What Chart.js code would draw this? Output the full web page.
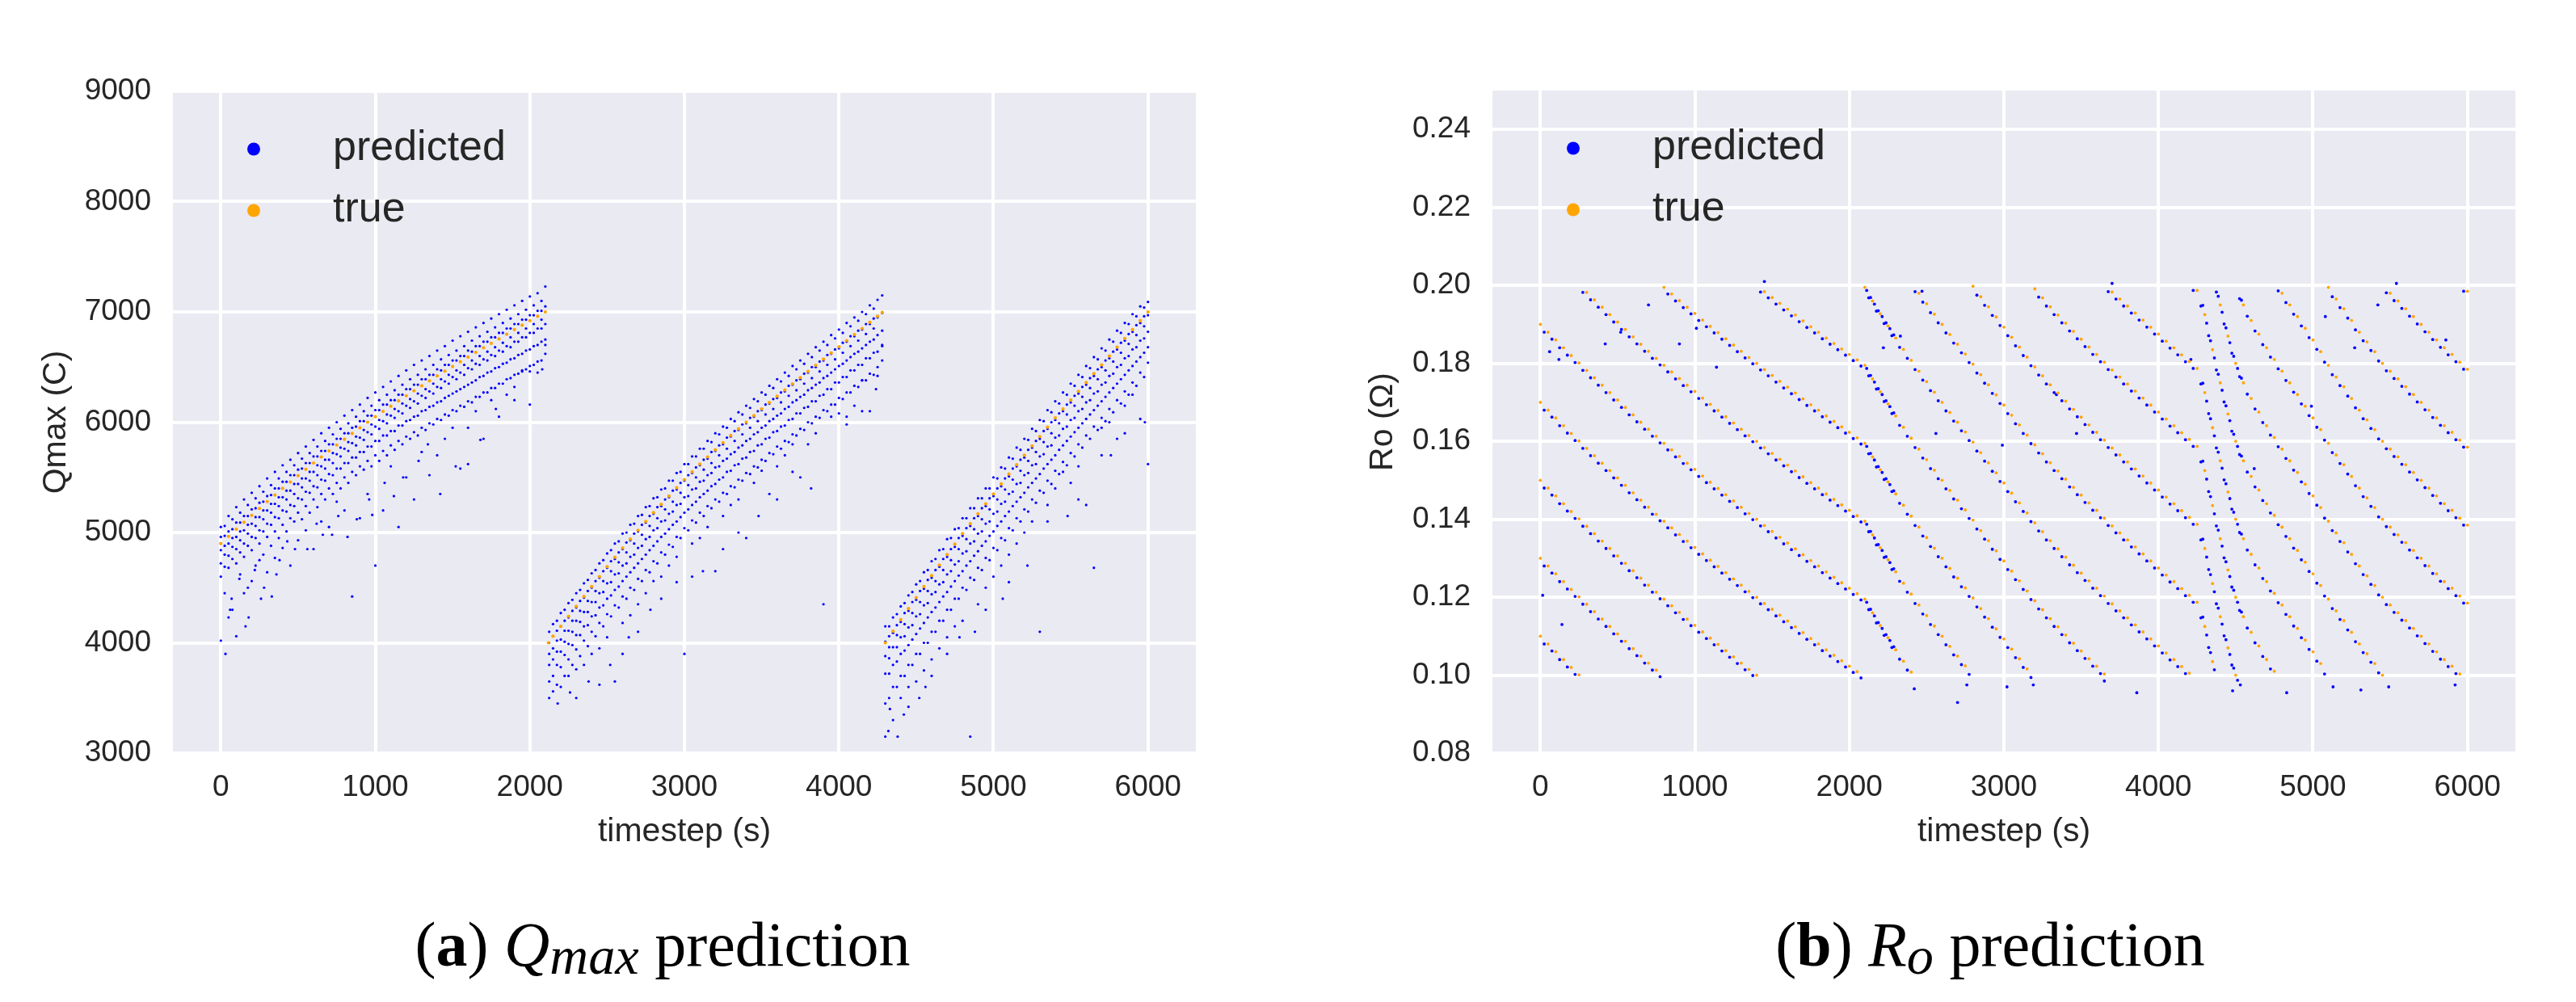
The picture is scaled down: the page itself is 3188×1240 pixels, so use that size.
<!DOCTYPE html>
<html>
<head>
<meta charset="utf-8">
<script src="https://cdn.jsdelivr.net/npm/chart.js@4.4.1/dist/chart.umd.min.js"></script>
<style>
  html, body { margin: 0; padding: 0; background: #fff; }
  body { width: 3188px; height: 1240px; position: relative; overflow: hidden; }
  canvas { position: absolute; top: 0; width: 1594px; height: 1240px; }
  #qmax { left: 0; }
  #ro { left: 1594px; }
  .caption { position: absolute; top: 1131px; font-family: 'Liberation Serif', serif; font-size: 78px; line-height: 76px; color: #000; white-space: nowrap; transform: translateX(-50%); }
  .caption .sub { font-size: 0.85em; position: relative; top: 0.15em; }
</style>
</head>
<body>
<canvas id="qmax" width="1594" height="1240"></canvas>
<canvas id="ro" width="1594" height="1240"></canvas>
<div class="caption" style="left: 820px">(<b>a</b>) <i>Q</i><i class="sub">max</i> prediction</div>
<div class="caption" style="left: 2463px">(<b>b</b>) <i>R</i><i class="sub">o</i> prediction</div>
<script>
// ---- tick labels ----
const xTicks = [0, 1000, 2000, 3000, 4000, 5000, 6000];
const qTicks = [3000, 4000, 5000, 6000, 7000, 8000, 9000];
const roTicks = [0.08, 0.10, 0.12, 0.14, 0.16, 0.18, 0.20, 0.22, 0.24];

// ---- Qmax: true values (orange) ----
const qTrueT = [
  0, 50, 100, 150, 200, 250, 300, 350, 400, 450, 500, 550, 600, 650, 700, 750, 800, 850, 900, 950,
  1000, 1050, 1100, 1150, 1200, 1250, 1300, 1350, 1400, 1450, 1500, 1550, 1600, 1650, 1700, 1750,
  1800, 1850, 1900, 1950, 2000, 2050, 2100,
  2120, 2150, 2200, 2250, 2300, 2350, 2400, 2450, 2500, 2550, 2600, 2650, 2700, 2750, 2800, 2850,
  2900, 2950, 3000, 3050, 3100, 3150, 3200, 3250, 3300, 3350, 3400, 3450, 3500, 3550, 3600, 3650,
  3700, 3750, 3800, 3850, 3900, 3950, 4000, 4050, 4100, 4150, 4200, 4250, 4280,
  4300, 4350, 4400, 4450, 4500, 4550, 4600, 4650, 4700, 4750, 4800, 4850, 4900, 4950, 5000, 5050,
  5100, 5150, 5200, 5250, 5300, 5350, 5400, 5450, 5500, 5550, 5600, 5650, 5700, 5750, 5800, 5850,
  5900, 5950, 6000
];
const qTrueV = [
  4900, 4965, 5030, 5093, 5155, 5218, 5280, 5340, 5400, 5458, 5515, 5573, 5630, 5685, 5740, 5793,
  5845, 5898, 5950, 6000, 6050, 6098, 6145, 6193, 6240, 6285, 6330, 6375, 6420, 6463, 6505, 6548,
  6590, 6633, 6675, 6715, 6755, 6798, 6840, 6880, 6920, 6960, 7000,
  4000, 4060, 4150, 4240, 4330, 4420, 4510, 4600, 4690, 4775, 4860, 4940, 5020, 5100, 5180, 5255,
  5330, 5405, 5480, 5550, 5620, 5685, 5750, 5815, 5880, 5940, 6000, 6060, 6120, 6178, 6235, 6292,
  6348, 6404, 6460, 6516, 6572, 6628, 6684, 6740, 6795, 6850, 6905, 6960, 6995,
  4000, 4105, 4210, 4310, 4410, 4510, 4610, 4705, 4800, 4895, 4990, 5080, 5170, 5260, 5350, 5440,
  5530, 5615, 5700, 5785, 5870, 5955, 6040, 6120, 6200, 6280, 6360, 6440, 6520, 6600, 6680, 6760,
  6840, 6920, 7000
];

// ---- Qmax: predicted values (blue), one row per timestep: [t, values...] ----
const qPredRows = [
  [0, 5050, 4960, 4840, 4720, 4600, 4020], [25, 5060, 4970, 4880, 4800, 4690, 4450],
  [50, 5150, 5010, 4900, 4790, 4680, 4230], [75, 5120, 5030, 4950, 4870, 4760, 4300],
  [100, 5230, 5090, 4960, 4850, 4720, 4060], [125, 5180, 5090, 5010, 4930, 4820, 4620],
  [150, 5300, 5150, 5020, 4900, 4780, 4450], [175, 5250, 5150, 5070, 4990, 4880, 4500],
  [200, 5360, 5210, 5080, 4960, 4840, 4560], [225, 5310, 5220, 5140, 5060, 4950, 4700],
  [250, 5420, 5270, 5140, 5020, 4900, 4750], [275, 5370, 5280, 5200, 5120, 5010, 4800],
  [300, 5490, 5330, 5200, 5080, 4960, 4640], [325, 5430, 5340, 5260, 5180, 5070, 4880],
  [350, 5550, 5400, 5260, 5140, 5010, 4770], [375, 5490, 5400, 5320, 5240, 5130, 4950],
  [400, 5610, 5460, 5320, 5200, 5070, 4860], [425, 5550, 5460, 5380, 5300, 5190, 5010],
  [450, 5660, 5520, 5380, 5250, 5130, 4700], [475, 5610, 5520, 5440, 5350, 5240, 5100],
  [500, 5720, 5570, 5440, 5310, 5180, 4930], [525, 5670, 5580, 5490, 5410, 5300, 5120],
  [550, 5780, 5630, 5490, 5370, 5240, 5020], [575, 5720, 5630, 5550, 5470, 5360, 5180],
  [600, 5840, 5690, 5550, 5420, 5300, 4850], [625, 5780, 5690, 5610, 5520, 5410, 5230],
  [650, 5900, 5740, 5600, 5480, 5350, 5100], [675, 5830, 5740, 5660, 5580, 5470, 5300],
  [700, 5950, 5800, 5660, 5530, 5400, 5050], [725, 5890, 5800, 5720, 5630, 5520, 5350],
  [750, 6000, 5850, 5710, 5580, 5450, 5280], [775, 5940, 5850, 5770, 5690, 5580, 5400],
  [800, 6060, 5900, 5760, 5630, 5500, 5200], [825, 5990, 5900, 5820, 5740, 5630, 5450],
  [850, 6110, 5950, 5810, 5680, 5550, 4420], [875, 6050, 5960, 5870, 5790, 5680, 5520],
  [900, 6160, 6010, 5860, 5730, 5600, 5130], [925, 6100, 6010, 5930, 5840, 5730, 5570],
  [950, 6220, 6060, 5910, 5780, 5650, 5350], [975, 6150, 6060, 5980, 5890, 5780, 5600],
  [1000, 6270, 6110, 5960, 5830, 5700, 4700], [1025, 6200, 6110, 6020, 5940, 5830, 5650],
  [1050, 6320, 6160, 6010, 5880, 5740, 5200], [1075, 6250, 6160, 6070, 5990, 5880, 5700],
  [1100, 6370, 6200, 6060, 5920, 5790, 5600], [1125, 6290, 6200, 6120, 6040, 5920, 5750],
  [1150, 6420, 6250, 6100, 5970, 5830, 5050], [1175, 6340, 6250, 6170, 6080, 5970, 5800],
  [1200, 6470, 6300, 6150, 6010, 5870, 5500], [1225, 6390, 6300, 6210, 6130, 6020, 5850],
  [1250, 6520, 6340, 6190, 6050, 5910, 5300], [1275, 6430, 6340, 6260, 6170, 6060, 5880],
  [1300, 6560, 6390, 6240, 6100, 5950, 5730], [1325, 6480, 6390, 6300, 6220, 6110, 5930],
  [1350, 6600, 6430, 6280, 6140, 5990, 5520], [1375, 6520, 6430, 6350, 6260, 6150, 5980],
  [1400, 6650, 6480, 6320, 6180, 6030, 5700], [1425, 6570, 6470, 6390, 6310, 6190, 6020],
  [1450, 6690, 6520, 6370, 6220, 6070, 5850], [1475, 6610, 6520, 6430, 6350, 6240, 6060],
  [1500, 6740, 6560, 6410, 6260, 6110, 5950], [1525, 6650, 6560, 6470, 6390, 6280, 6100],
  [1550, 6780, 6600, 6450, 6300, 6150, 5580], [1575, 6690, 6600, 6520, 6430, 6320, 6140],
  [1600, 6820, 6650, 6490, 6340, 6190, 5620], [1625, 6740, 6640, 6560, 6480, 6360, 6180],
  [1650, 6860, 6690, 6530, 6380, 6230, 6100], [1675, 6780, 6690, 6600, 6520, 6410, 6230],
  [1700, 6900, 6730, 6570, 6420, 6270, 5850], [1725, 6820, 6730, 6640, 6560, 6450, 6270],
  [1750, 6940, 6770, 6610, 6460, 6310, 6200], [1775, 6860, 6770, 6680, 6600, 6490, 6310],
  [1800, 6980, 6810, 6650, 6500, 6350, 6050], [1825, 6900, 6810, 6720, 6640, 6530, 6350],
  [1850, 7020, 6850, 6690, 6540, 6390, 6250], [1875, 6940, 6850, 6770, 6680, 6570, 6400],
  [1900, 7060, 6890, 6730, 6580, 6430, 6320], [1925, 6980, 6890, 6810, 6730, 6610, 6440],
  [1950, 7100, 6930, 6770, 6620, 6470, 6460], [1975, 7020, 6930, 6850, 6770, 6650, 6480],
  [2000, 7140, 6970, 6810, 6660, 6510, 6160], [2025, 7060, 6970, 6890, 6810, 6690, 6520],
  [2050, 7170, 7010, 6850, 6700, 6550, 6450], [2075, 7100, 7010, 6930, 6850, 6730, 6560],
  [2100, 7230, 7050, 6890, 6750, 6620, 6700],
  [2125, 4100, 4000, 3900, 3800, 3650, 3500], [2150, 4170, 4060, 3950, 3850, 3700, 3560],
  [2175, 4200, 4110, 4020, 3920, 3800, 3620], [2200, 4270, 4150, 4030, 3920, 3780, 3600],
  [2225, 4300, 4200, 4110, 4010, 3890, 3700], [2250, 4360, 4230, 4110, 3990, 3850, 3700],
  [2275, 4390, 4290, 4200, 4100, 3980, 3800], [2300, 4450, 4320, 4200, 4070, 3940, 3760],
  [2325, 4480, 4380, 4290, 4190, 4070, 3880], [2350, 4540, 4410, 4280, 4150, 4020, 3800],
  [2375, 4570, 4470, 4380, 4280, 4160, 3970], [2400, 4630, 4500, 4370, 4240, 4100, 3900],
  [2425, 4660, 4560, 4470, 4370, 4250, 4060], [2450, 4720, 4590, 4450, 4320, 4180, 3950],
  [2475, 4750, 4650, 4560, 4460, 4340, 4150], [2500, 4810, 4680, 4540, 4400, 4260, 4050],
  [2525, 4840, 4740, 4650, 4550, 4430, 4240], [2550, 4900, 4760, 4620, 4480, 4340, 3650],
  [2575, 4920, 4820, 4730, 4630, 4510, 4320], [2600, 4990, 4850, 4700, 4560, 4420, 4180],
  [2625, 5000, 4910, 4820, 4720, 4600, 4400], [2650, 5070, 4930, 4780, 4640, 4500, 4250],
  [2675, 5080, 4990, 4900, 4800, 4680, 4480], [2700, 5150, 5010, 4860, 4720, 4580, 4350],
  [2725, 5160, 5070, 4980, 4880, 4760, 4560], [2750, 5230, 5090, 4940, 4800, 4660, 4450],
  [2775, 5240, 5150, 5060, 4960, 4840, 4640], [2800, 5310, 5170, 5020, 4880, 4740, 4560],
  [2825, 5320, 5230, 5130, 5040, 4920, 4720], [2850, 5390, 5240, 5100, 4960, 4820, 4600],
  [2875, 5400, 5300, 5210, 5110, 4990, 4800], [2900, 5470, 5320, 5170, 5030, 4890, 4700],
  [2925, 5470, 5380, 5280, 5190, 5070, 4870], [2950, 5540, 5390, 5250, 5100, 4960, 4780],
  [2975, 5550, 5450, 5360, 5260, 5140, 4950], [3000, 5620, 5470, 5320, 5180, 5040, 3900],
  [3025, 5620, 5520, 5430, 5330, 5210, 5020], [3050, 5690, 5540, 5390, 5250, 5110, 4900],
  [3075, 5690, 5590, 5500, 5400, 5280, 5090], [3100, 5760, 5610, 5460, 5320, 5180, 4950],
  [3125, 5760, 5660, 5570, 5470, 5350, 5150], [3150, 5830, 5670, 5520, 5380, 5240, 5050],
  [3175, 5820, 5730, 5630, 5540, 5420, 5220], [3200, 5900, 5740, 5590, 5440, 5300, 4650],
  [3225, 5890, 5790, 5700, 5600, 5480, 5280], [3250, 5960, 5800, 5650, 5500, 5360, 5150],
  [3275, 5950, 5860, 5760, 5670, 5550, 5350], [3300, 6030, 5870, 5710, 5560, 5420, 5250],
  [3325, 6010, 5920, 5830, 5730, 5610, 5410], [3350, 6090, 5930, 5770, 5620, 5480, 5300],
  [3375, 6070, 5980, 5890, 5790, 5670, 5470], [3400, 6150, 5990, 5830, 5680, 5540, 4950],
  [3425, 6130, 6040, 5950, 5850, 5730, 5530], [3450, 6210, 6050, 5890, 5740, 5600, 5450],
  [3475, 6190, 6100, 6010, 5910, 5790, 5590], [3500, 6270, 6110, 5950, 5800, 5660, 5560],
  [3525, 6250, 6160, 6070, 5970, 5850, 5650], [3550, 6330, 6170, 6010, 5860, 5720, 5350],
  [3575, 6310, 6210, 6120, 6030, 5910, 5710], [3600, 6390, 6220, 6060, 5920, 5780, 5600],
  [3625, 6370, 6270, 6180, 6080, 5960, 5760], [3650, 6450, 6280, 6120, 5970, 5830, 5700],
  [3675, 6420, 6330, 6240, 6140, 6020, 5820], [3700, 6510, 6340, 6180, 6030, 5890, 5800],
  [3725, 6480, 6380, 6290, 6200, 6080, 5880], [3750, 6560, 6390, 6230, 6080, 5940, 5500],
  [3775, 6530, 6440, 6350, 6250, 6130, 5930], [3800, 6620, 6450, 6290, 6140, 6000, 5800],
  [3825, 6590, 6500, 6400, 6310, 6190, 5990], [3850, 6680, 6500, 6340, 6190, 6050, 5900],
  [3875, 6650, 6550, 6460, 6360, 6240, 6040], [3900, 6730, 6560, 6400, 6250, 6110, 4350],
  [3925, 6700, 6610, 6520, 6420, 6300, 6100], [3950, 6790, 6620, 6450, 6300, 6160, 6050],
  [3975, 6760, 6660, 6570, 6480, 6360, 6160], [4000, 6840, 6670, 6510, 6360, 6220, 6080],
  [4025, 6810, 6720, 6630, 6530, 6410, 6210], [4050, 6900, 6730, 6560, 6410, 6270, 5980],
  [4075, 6870, 6780, 6690, 6590, 6470, 6270], [4100, 6950, 6780, 6620, 6470, 6330, 6150],
  [4125, 6920, 6830, 6740, 6640, 6520, 6320], [4150, 7000, 6840, 6670, 6520, 6380, 6380],
  [4175, 6980, 6890, 6800, 6700, 6580, 6380], [4200, 7060, 6890, 6730, 6580, 6440, 6100],
  [4225, 7030, 6940, 6850, 6750, 6630, 6430], [4250, 7110, 6950, 6790, 6640, 6500, 6420],
  [4280, 7150, 6990, 6830, 6690, 6560, 6700],
  [4300, 4150, 4010, 3880, 3720, 3450, 3150], [4325, 4150, 4060, 3960, 3860, 3720, 3500],
  [4350, 4230, 4090, 3960, 3800, 3600, 3300], [4375, 4260, 4160, 4070, 3960, 3830, 3600],
  [4400, 4330, 4190, 4050, 3900, 3700, 3500], [4425, 4360, 4270, 4170, 4060, 3930, 3700],
  [4450, 4430, 4290, 4140, 3980, 3800, 3420], [4475, 4460, 4370, 4270, 4160, 4030, 3800],
  [4500, 4530, 4390, 4240, 4080, 3900, 3650], [4525, 4560, 4470, 4370, 4260, 4130, 3900],
  [4550, 4640, 4490, 4340, 4180, 4000, 3750], [4575, 4660, 4570, 4470, 4360, 4230, 4000],
  [4600, 4740, 4590, 4440, 4280, 4100, 3850], [4625, 4760, 4660, 4560, 4460, 4320, 4100],
  [4650, 4840, 4690, 4530, 4370, 4200, 3950], [4675, 4850, 4760, 4660, 4550, 4420, 4200],
  [4700, 4940, 4780, 4620, 4460, 4300, 4050], [4725, 4950, 4850, 4750, 4650, 4510, 4300],
  [4750, 5030, 4870, 4710, 4560, 4400, 4150], [4775, 5040, 4950, 4850, 4740, 4610, 4400],
  [4800, 5130, 4970, 4810, 4650, 4500, 4200], [4825, 5130, 5040, 4940, 4830, 4700, 4480],
  [4850, 5220, 5060, 4900, 4740, 4590, 3150], [4875, 5220, 5130, 5030, 4920, 4790, 4570],
  [4900, 5310, 5150, 4990, 4830, 4680, 4350], [4925, 5310, 5220, 5120, 5010, 4880, 4660],
  [4950, 5400, 5240, 5080, 4920, 4770, 4500], [4975, 5400, 5310, 5210, 5100, 4970, 4750],
  [5000, 5500, 5330, 5170, 5010, 4860, 4600], [5025, 5490, 5400, 5300, 5190, 5060, 4840],
  [5050, 5590, 5420, 5260, 5100, 4950, 4700], [5075, 5580, 5490, 5390, 5280, 5150, 4930],
  [5100, 5680, 5510, 5350, 5190, 5040, 4800], [5125, 5670, 5580, 5480, 5370, 5240, 5020],
  [5150, 5770, 5600, 5440, 5280, 5130, 4900], [5175, 5750, 5660, 5560, 5450, 5320, 5100],
  [5200, 5850, 5680, 5520, 5360, 5210, 5000], [5225, 5840, 5750, 5650, 5540, 5410, 5190],
  [5250, 5940, 5770, 5610, 5450, 5300, 5100], [5275, 5920, 5830, 5730, 5620, 5490, 5270],
  [5300, 6020, 5850, 5690, 5530, 5380, 4100], [5325, 6010, 5920, 5820, 5710, 5580, 5360],
  [5350, 6110, 5940, 5780, 5620, 5470, 5250], [5375, 6090, 6000, 5900, 5790, 5660, 5440],
  [5400, 6190, 6020, 5860, 5700, 5560, 5400], [5425, 6170, 6080, 5990, 5880, 5750, 5530],
  [5450, 6270, 6100, 5940, 5790, 5640, 5550], [5475, 6250, 6160, 6070, 5960, 5830, 5610],
  [5500, 6350, 6180, 6020, 5870, 5720, 5450], [5525, 6330, 6240, 6150, 6040, 5910, 5690],
  [5550, 6430, 6260, 6100, 5950, 5800, 5600], [5575, 6410, 6320, 6230, 6120, 5990, 5770],
  [5600, 6510, 6340, 6180, 6030, 5880, 5250], [5625, 6490, 6400, 6310, 6200, 6070, 5850],
  [5650, 6590, 6420, 6260, 6110, 5960, 4680], [5675, 6570, 6480, 6390, 6280, 6150, 5930],
  [5700, 6670, 6500, 6340, 6190, 6040, 5950], [5725, 6650, 6560, 6470, 6360, 6230, 6010],
  [5750, 6750, 6580, 6420, 6270, 6120, 6000], [5775, 6730, 6640, 6550, 6440, 6310, 6090],
  [5800, 6830, 6660, 6500, 6350, 6200, 5850], [5825, 6810, 6720, 6630, 6520, 6390, 6170],
  [5850, 6900, 6740, 6580, 6430, 6280, 6150], [5875, 6890, 6800, 6710, 6600, 6470, 6250],
  [5900, 6980, 6820, 6660, 6510, 6360, 6250], [5925, 6960, 6880, 6790, 6680, 6550, 6330],
  [5950, 7050, 6900, 6740, 6590, 6450, 6030], [5975, 7040, 6960, 6870, 6760, 6630, 6410],
  [6000, 7090, 6970, 6820, 6680, 6540, 5620]
];
const qPredOutliers = [
  [30, 3900], [60, 4300], [70, 4400], [120, 4580], [160, 4150], [180, 4230], [220, 4660],
  [260, 4400], [280, 4500], [330, 4420], [360, 4620], [380, 4750], [430, 4920], [480, 4850],
  [560, 4850], [620, 5080], [660, 4980], [720, 4980], [760, 5150], [820, 4960], [880, 5120],
  [960, 5300], [980, 5160], [1060, 5450], [1120, 5330], [1180, 5500], [1280, 5650], [1340, 5800],
  [1420, 5350], [1520, 5600], [1600, 5950], [1680, 5840], [1780, 6120], [1900, 6200], [2000, 6460],
  [2080, 6480], [2180, 3450], [2260, 3550], [2300, 3500], [2380, 3650], [2450, 3620], [2520, 3800],
  [2600, 3900], [2640, 4050], [2700, 4100], [2780, 4300], [2850, 4400], [2950, 4550], [3050, 4600],
  [3120, 4650], [3250, 4850], [3350, 5000], [3480, 5150], [3600, 5300], [3700, 5550], [3820, 5400],
  [4050, 6050], [4150, 6100], [4240, 6300], [4320, 3200], [4330, 3400], [4380, 3150], [4420, 3350],
  [4450, 3600], [4520, 3500], [4560, 3600], [4600, 3700], [4700, 3900], [4780, 4050], [4880, 4100],
  [4950, 4300], [5060, 4400], [5100, 4550], [5220, 4700], [5350, 5100], [5480, 5150], [5550, 5300],
  [5700, 5700], [5760, 5700], [5850, 5900], [5980, 6000]
];

// ---- Ro: timesteps ----
const roTimes = [
  0, 50, 100, 150, 200, 250, 300, 350, 400, 450, 500, 550, 600, 650, 700, 750, 800, 850, 900, 950,
  1000, 1050, 1100, 1150, 1200, 1250, 1300, 1350, 1400, 1450, 1500, 1550, 1600, 1650, 1700, 1750,
  1800, 1850, 1900, 1950, 2000, 2050, 2100, 2150, 2200, 2250, 2300, 2350, 2400, 2450, 2500, 2550,
  2600, 2650, 2700, 2750, 2800, 2850, 2900, 2950, 3000, 3050, 3100, 3150, 3200, 3250, 3300, 3350,
  3400, 3450, 3500, 3550, 3600, 3650, 3700, 3750, 3800, 3850, 3900, 3950, 4000, 4050, 4100, 4150,
  4200, 4250, 4300, 4350, 4400, 4450, 4500, 4550, 4600, 4650, 4700, 4750, 4800, 4850, 4900, 4950,
  5000, 5050, 5100, 5150, 5200, 5250, 5300, 5350, 5400, 5450, 5500, 5550, 5600, 5650, 5700, 5750,
  5800, 5850, 5900, 5950, 6000
];
const roPredTimes = [
  25, 75, 125, 175, 225, 275, 325, 375, 425, 475, 525, 575, 625, 675, 725, 775, 825, 875, 925, 975,
  1025, 1075, 1125, 1175, 1225, 1275, 1325, 1375, 1425, 1475, 1525, 1575, 1625, 1675, 1725, 1775,
  1825, 1875, 1925, 1975, 2025, 2075, 2125, 2175, 2225, 2275, 2325, 2375, 2425, 2475, 2525, 2575,
  2625, 2675, 2725, 2775, 2825, 2875, 2925, 2975, 3025, 3075, 3125, 3175, 3225, 3275, 3325, 3375,
  3425, 3475, 3525, 3575, 3625, 3675, 3725, 3775, 3825, 3875, 3925, 3975, 4025, 4075, 4125, 4175,
  4225, 4275, 4325, 4375, 4425, 4475, 4525, 4575, 4625, 4675, 4725, 4775, 4825, 4875, 4925, 4975,
  5025, 5075, 5125, 5175, 5225, 5275, 5325, 5375, 5425, 5475, 5525, 5575, 5625, 5675, 5725, 5775,
  5825, 5875, 5925, 5975
];
// extra predicted samples where the lines fall steeply after each reset
const roDenseT = [2112, 2137, 2162, 2187, 2212, 2237, 2262, 2287, 4287, 4312, 4337, 4362, 4387, 4412, 4437, 4462, 4487, 4512, 4537];

// ---- Ro: true values (orange), five interleaved tracks ----
const roTrue1 = [
  .1100, .1080, .1060, .1040, .1020, .1001, .1182, .1163, .1144, .1125, .1106, .1087, .1068, .1049, .1031, .1013, .1195, .1178, .1161, .1144,
  .1128, .1111, .1095, .1079, .1063, .1047, .1031, .1015, .1000, .1184, .1169, .1154, .1139, .1124, .1109, .1094, .1080, .1065, .1051, .1037,
  .1023, .1009, .1195, .1160, .1127, .1096, .1065, .1036, .1008, .1180, .1153, .1126, .1100, .1074, .1049, .1024, .1198, .1171, .1145, .1119,
  .1093, .1067, .1042, .1016, .1191, .1168, .1145, .1124, .1103, .1082, .1062, .1042, .1023, .1003, .1183, .1165, .1147, .1129, .1111, .1093,
  .1075, .1057, .1040, .1022, .1005, .1187, .1125, .1035, .1150, .1070, .1000, .1150, .1110, .1075, .1040, .1010, .1180, .1150, .1120, .1090,
  .1060, .1030, .1195, .1165, .1140, .1110, .1080, .1055, .1030, .1000, .1180, .1160, .1140, .1120, .1100, .1080, .1060, .1040, .1023, .1003, .1185
];
const roTrue2 = [
  .1300, .1280, .1260, .1240, .1220, .1201, .1382, .1363, .1344, .1325, .1306, .1287, .1268, .1249, .1231, .1213, .1395, .1378, .1361, .1344,
  .1328, .1311, .1295, .1279, .1263, .1247, .1231, .1215, .1200, .1384, .1369, .1354, .1339, .1324, .1309, .1294, .1280, .1265, .1251, .1237,
  .1223, .1209, .1395, .1360, .1327, .1296, .1265, .1236, .1208, .1380, .1353, .1326, .1300, .1274, .1249, .1224, .1398, .1371, .1345, .1319,
  .1293, .1267, .1242, .1216, .1391, .1368, .1345, .1324, .1303, .1282, .1262, .1242, .1223, .1203, .1383, .1365, .1347, .1329, .1311, .1293,
  .1275, .1257, .1240, .1222, .1205, .1387, .1325, .1235, .1350, .1270, .1200, .1350, .1310, .1275, .1240, .1210, .1380, .1350, .1320, .1290,
  .1260, .1230, .1395, .1365, .1340, .1310, .1280, .1255, .1230, .1200, .1380, .1360, .1340, .1320, .1300, .1280, .1260, .1240, .1223, .1203, .1385
];
const roTrue3 = [
  .1500, .1480, .1460, .1440, .1420, .1401, .1582, .1563, .1544, .1525, .1506, .1487, .1468, .1449, .1431, .1413, .1595, .1578, .1561, .1544,
  .1528, .1511, .1495, .1479, .1463, .1447, .1431, .1415, .1400, .1584, .1569, .1554, .1539, .1524, .1509, .1494, .1480, .1465, .1451, .1437,
  .1423, .1409, .1595, .1560, .1527, .1496, .1465, .1436, .1408, .1580, .1553, .1526, .1500, .1474, .1449, .1424, .1598, .1571, .1545, .1519,
  .1493, .1467, .1442, .1416, .1591, .1568, .1545, .1524, .1503, .1482, .1462, .1442, .1423, .1403, .1583, .1565, .1547, .1529, .1511, .1493,
  .1475, .1457, .1440, .1422, .1405, .1587, .1525, .1435, .1550, .1470, .1400, .1550, .1510, .1475, .1440, .1410, .1580, .1550, .1520, .1490,
  .1460, .1430, .1595, .1565, .1540, .1510, .1480, .1455, .1430, .1400, .1580, .1560, .1540, .1520, .1500, .1480, .1460, .1440, .1423, .1403, .1585
];
const roTrue4 = [
  .1700, .1680, .1660, .1640, .1620, .1601, .1782, .1763, .1744, .1725, .1706, .1687, .1668, .1649, .1631, .1613, .1795, .1778, .1761, .1744,
  .1728, .1711, .1695, .1679, .1663, .1647, .1631, .1615, .1600, .1784, .1769, .1754, .1739, .1724, .1709, .1694, .1680, .1665, .1651, .1637,
  .1623, .1609, .1795, .1760, .1727, .1696, .1665, .1636, .1608, .1780, .1753, .1726, .1700, .1674, .1649, .1624, .1798, .1771, .1745, .1719,
  .1693, .1667, .1642, .1616, .1791, .1768, .1745, .1724, .1703, .1682, .1662, .1642, .1623, .1603, .1783, .1765, .1747, .1729, .1711, .1693,
  .1675, .1657, .1640, .1622, .1605, .1787, .1725, .1635, .1750, .1670, .1600, .1750, .1710, .1675, .1640, .1610, .1780, .1750, .1720, .1690,
  .1660, .1630, .1795, .1765, .1740, .1710, .1680, .1655, .1630, .1600, .1780, .1760, .1740, .1720, .1700, .1680, .1660, .1640, .1623, .1603, .1785
];
const roTrue5 = [
  .1900, .1880, .1860, .1840, .1820, .1801, .1982, .1963, .1944, .1925, .1906, .1887, .1868, .1849, .1831, .1813, .1995, .1978, .1961, .1944,
  .1928, .1911, .1895, .1879, .1863, .1847, .1831, .1815, .1800, .1984, .1969, .1954, .1939, .1924, .1909, .1894, .1880, .1865, .1851, .1837,
  .1823, .1809, .1995, .1960, .1927, .1896, .1865, .1836, .1808, .1980, .1953, .1926, .1900, .1874, .1849, .1824, .1998, .1971, .1945, .1919,
  .1893, .1867, .1842, .1816, .1991, .1968, .1945, .1924, .1903, .1882, .1862, .1842, .1823, .1803, .1983, .1965, .1947, .1929, .1911, .1893,
  .1875, .1857, .1840, .1822, .1805, .1987, .1925, .1835, .1950, .1870, .1800, .1950, .1910, .1875, .1840, .1810, .1980, .1950, .1920, .1890,
  .1860, .1830, .1995, .1965, .1940, .1910, .1880, .1855, .1830, .1800, .1980, .1960, .1940, .1920, .1900, .1880, .1860, .1840, .1823, .1803, .1985
];

// ---- Ro: predicted values (blue), read between the true samples ----
const roPred1 = [
  .1080, .1062, .1040, .1021, .1002, .1182, .1163, .1144, .1125, .1106, .1087, .1068, .1050, .1031, .1013, .0996, .1178, .1160, .1143, .1127,
  .1110, .1094, .1078, .1062, .1046, .1030, .1014, .0999, .1183, .1168, .1152, .1137, .1122, .1107, .1092, .1078, .1063, .1049, .1035, .1021,
  .1007, .0993, .1168, .1134, .1102, .1071, .1041, .1013, .1184, .1157, .1130, .1104, .1078, .1052, .1027, .1002, .1175, .1149, .1123, .1097,
  .1071, .1045, .1020, .0994, .1170, .1147, .1125, .1104, .1083, .1063, .1043, .1023, .1004, .1184, .1165, .1147, .1129, .1111, .1093, .1075,
  .1057, .1039, .1022, .1004, .1187, .1147, .1071, .1183, .1101, .1026, .1166, .1121, .1083, .1048, .1016, .1186, .1156, .1126, .1096, .1066,
  .1036, .1003, .1171, .1143, .1116, .1086, .1058, .1033, .1006, .1181, .1161, .1141, .1121, .1101, .1081, .1061, .1041, .1022, .1004, .1185
];
const roPred2 = [
  .1280, .1262, .1240, .1221, .1202, .1382, .1363, .1344, .1325, .1306, .1287, .1268, .1250, .1231, .1213, .1196, .1378, .1360, .1343, .1327,
  .1310, .1294, .1278, .1262, .1246, .1230, .1214, .1199, .1383, .1368, .1352, .1337, .1322, .1307, .1292, .1278, .1263, .1249, .1235, .1221,
  .1207, .1193, .1368, .1334, .1302, .1271, .1241, .1213, .1384, .1357, .1330, .1304, .1278, .1252, .1227, .1202, .1375, .1349, .1323, .1297,
  .1271, .1245, .1220, .1194, .1370, .1347, .1325, .1304, .1283, .1263, .1243, .1223, .1204, .1384, .1365, .1347, .1329, .1311, .1293, .1275,
  .1257, .1239, .1222, .1204, .1387, .1347, .1271, .1383, .1301, .1226, .1366, .1321, .1283, .1248, .1216, .1386, .1356, .1326, .1296, .1266,
  .1236, .1203, .1371, .1343, .1316, .1286, .1258, .1233, .1206, .1381, .1361, .1341, .1321, .1301, .1281, .1261, .1241, .1222, .1204, .1385
];
const roPred3 = [
  .1480, .1462, .1440, .1421, .1402, .1582, .1563, .1544, .1525, .1506, .1487, .1468, .1450, .1431, .1413, .1396, .1578, .1560, .1543, .1527,
  .1510, .1494, .1478, .1462, .1446, .1430, .1414, .1399, .1583, .1568, .1552, .1537, .1522, .1507, .1492, .1478, .1463, .1449, .1435, .1421,
  .1407, .1393, .1568, .1534, .1502, .1471, .1441, .1413, .1584, .1557, .1530, .1504, .1478, .1452, .1427, .1402, .1575, .1549, .1523, .1497,
  .1471, .1445, .1420, .1394, .1570, .1547, .1525, .1504, .1483, .1463, .1443, .1423, .1404, .1584, .1565, .1547, .1529, .1511, .1493, .1475,
  .1457, .1439, .1422, .1404, .1587, .1547, .1471, .1583, .1501, .1426, .1566, .1521, .1483, .1448, .1416, .1586, .1556, .1526, .1496, .1466,
  .1436, .1403, .1571, .1543, .1516, .1486, .1458, .1433, .1406, .1581, .1561, .1541, .1521, .1501, .1481, .1461, .1441, .1422, .1404, .1585
];
const roPred4 = [
  .1680, .1662, .1640, .1621, .1602, .1782, .1763, .1744, .1725, .1706, .1687, .1668, .1650, .1631, .1613, .1596, .1778, .1760, .1743, .1727,
  .1710, .1694, .1678, .1662, .1646, .1630, .1614, .1599, .1783, .1768, .1752, .1737, .1722, .1707, .1692, .1678, .1663, .1649, .1635, .1621,
  .1607, .1593, .1768, .1734, .1702, .1671, .1641, .1613, .1784, .1757, .1730, .1704, .1678, .1652, .1627, .1602, .1775, .1749, .1723, .1697,
  .1671, .1645, .1620, .1594, .1770, .1747, .1725, .1704, .1683, .1663, .1643, .1623, .1604, .1784, .1765, .1747, .1729, .1711, .1693, .1675,
  .1657, .1639, .1622, .1604, .1787, .1747, .1671, .1783, .1701, .1626, .1766, .1721, .1683, .1648, .1616, .1786, .1756, .1726, .1696, .1666,
  .1636, .1603, .1771, .1743, .1716, .1686, .1658, .1633, .1606, .1781, .1761, .1741, .1721, .1701, .1681, .1661, .1641, .1622, .1604, .1785
];
const roPred5 = [
  .1880, .1862, .1840, .1821, .1802, .1982, .1963, .1944, .1925, .1906, .1887, .1868, .1850, .1831, .1813, .1796, .1978, .1960, .1943, .1927,
  .1910, .1894, .1878, .1862, .1846, .1830, .1814, .1799, .1983, .1968, .1952, .1937, .1922, .1907, .1892, .1878, .1863, .1849, .1835, .1821,
  .1807, .1793, .1968, .1934, .1902, .1871, .1841, .1813, .1984, .1957, .1930, .1904, .1878, .1852, .1827, .1802, .1975, .1949, .1923, .1897,
  .1871, .1845, .1820, .1794, .1970, .1947, .1925, .1904, .1883, .1863, .1843, .1823, .1804, .1984, .1965, .1947, .1929, .1911, .1893, .1875,
  .1857, .1839, .1822, .1804, .1987, .1947, .1871, .1983, .1901, .1826, .1966, .1921, .1883, .1848, .1816, .1986, .1956, .1926, .1896, .1866,
  .1836, .1803, .1971, .1943, .1916, .1886, .1858, .1833, .1806, .1981, .1961, .1941, .1921, .1901, .1881, .1861, .1841, .1822, .1804, .1985
];
const roDense1 = [.1187, .1169, .1152, .1135, .1120, .1104, .1089, .1073, .1149, .1103, .1058, .1014, .1172, .1131, .1091, .1053, .1018, .0987, .1162];
const roDense2 = [.1387, .1369, .1352, .1335, .1320, .1304, .1289, .1273, .1349, .1303, .1258, .1214, .1372, .1331, .1291, .1253, .1218, .1187, .1362];
const roDense3 = [.1587, .1569, .1552, .1535, .1520, .1504, .1489, .1473, .1549, .1503, .1458, .1414, .1572, .1531, .1491, .1453, .1418, .1387, .1562];
const roDense4 = [.1787, .1769, .1752, .1735, .1720, .1704, .1689, .1673, .1749, .1703, .1658, .1614, .1772, .1731, .1691, .1653, .1618, .1587, .1762];
const roDense5 = [.1987, .1969, .1952, .1935, .1920, .1904, .1889, .1873, .1949, .1903, .1858, .1814, .1972, .1931, .1891, .1853, .1818, .1787, .1962];
const roPredOutliers = [
  [15, .1205], [60, .1830], [120, .1810], [140, .1130], [420, .1850], [520, .1880], [700, .1950],
  [900, .1850], [1010, .1890], [1140, .1790], [1450, .2010], [2220, .1840], [2330, .1870],
  [2420, .0965], [2470, .1985], [2560, .1620], [2700, .0930], [2760, .0975], [2990, .1590],
  [3020, .0970], [3190, .0975], [3340, .1720], [3470, .1620], [3650, .0985], [3700, .2005],
  [3860, .0955], [4210, .1810], [4480, .0960], [4530, .0975], [4620, .1530], [4830, .0955],
  [4990, .1690], [5080, .1920], [5130, .0970], [5270, .1840], [5310, .0962], [5420, .1950],
  [5490, .0970], [5540, .2005], [5860, .1860], [5920, .0975]
];

// ---- build point lists ----
const qTruePts = qTrueT.map((t, i) => ({ x: t, y: qTrueV[i] }));
const qPredPts = [];
qPredRows.forEach(row => {
  for (let k = 1; k < row.length; k++) qPredPts.push({ x: row[0], y: row[k] });
});
qPredOutliers.forEach(([x, y]) => qPredPts.push({ x, y }));

function addTracks(out, times, tracks) {
  tracks.forEach(track => track.forEach((v, i) => out.push({ x: times[i], y: v })));
}
const roTruePts = [];
addTracks(roTruePts, roTimes, [roTrue1, roTrue2, roTrue3, roTrue4, roTrue5]);
const roPredPts = [];
addTracks(roPredPts, roPredTimes, [roPred1, roPred2, roPred3, roPred4, roPred5]);
addTracks(roPredPts, roDenseT, [roDense1, roDense2, roDense3, roDense4, roDense5]);
roPredOutliers.forEach(([x, y]) => roPredPts.push({ x, y }));

// ---- styling ----
const INK = '#262626';
Chart.defaults.font.family = '"Liberation Sans", Arial, sans-serif';
Chart.defaults.color = INK;

const plotBackground = {
  id: 'plotBackground',
  beforeDraw(chart) {
    const { ctx, chartArea: a } = chart;
    ctx.save();
    ctx.fillStyle = '#EAEAF2';
    ctx.fillRect(a.left, a.top, a.right - a.left, a.bottom - a.top);
    ctx.restore();
  }
};

// legend drawn inside the plot, upper left, no frame
const insideLegend = {
  id: 'insideLegend',
  afterDatasetsDraw(chart) {
    const { ctx, chartArea: a } = chart;
    ctx.save();
    ctx.font = '52px "Liberation Sans", Arial, sans-serif';
    ctx.textBaseline = 'alphabetic';
    chart.data.datasets.forEach((ds, i) => {
      const y = a.top + 71.5 + i * 76;
      ctx.beginPath();
      ctx.arc(a.left + 100, y, 8, 0, Math.PI * 2);
      ctx.fillStyle = ds.backgroundColor;
      ctx.fill();
      ctx.fillStyle = INK;
      ctx.fillText(ds.label, a.left + 198, y + 13);
    });
    ctx.restore();
  }
};

function makeChart(id, opts) {
  const grid = { color: '#ffffff', lineWidth: 4, drawTicks: false };
  return new Chart(document.getElementById(id), {
    type: 'scatter',
    data: {
      datasets: [
        { label: 'predicted', data: opts.pred, backgroundColor: '#0000ff', pointRadius: opts.predR, pointBorderWidth: 0, order: 2 },
        { label: 'true', data: opts.truth, backgroundColor: '#ffa500', pointRadius: opts.trueR, pointBorderWidth: 0, order: 1 }
      ]
    },
    options: {
      responsive: false,
      devicePixelRatio: 1,
      animation: false,
      layout: { padding: { top: opts.top, right: opts.right, bottom: 0, left: 0 } },
      plugins: { legend: { display: false }, tooltip: { enabled: false } },
      scales: {
        x: {
          type: 'linear',
          position: 'bottom',
          min: -310,
          max: 6310,
          afterBuildTicks: s => { s.ticks = xTicks.map(v => ({ value: v })); },
          afterFit: s => { s.height = 308; },
          ticks: { font: { size: 37 }, color: INK, padding: 21, maxRotation: 0, autoSkip: false, callback: v => String(v) },
          grid,
          border: { display: false },
          title: { display: true, text: 'timestep (s)', font: { size: 41 }, color: INK, padding: { top: 0, bottom: 186 } }
        },
        y: {
          type: 'linear',
          min: opts.yMin,
          max: opts.yMax,
          afterBuildTicks: s => { s.ticks = opts.yTicks.map(v => ({ value: v })); },
          afterFit: s => { s.width = opts.axisWidth; },
          ticks: { font: { size: 37 }, color: INK, padding: 27, autoSkip: false, callback: opts.fmt },
          grid,
          border: { display: false },
          title: { display: true, text: opts.yTitle, font: { size: 41 }, color: INK, padding: { top: opts.titlePad, bottom: 0 } }
        }
      }
    },
    plugins: [plotBackground, insideLegend]
  });
}

makeChart('qmax', {
  pred: qPredPts, truth: qTruePts, predR: 1.6, trueR: 2.1,
  top: 113, right: 114, axisWidth: 214, titlePad: 45,
  yMin: 3000, yMax: 9000, yTicks: qTicks, fmt: v => String(v), yTitle: 'Qmax (C)'
});

makeChart('ro', {
  pred: roPredPts, truth: roTruePts, predR: 1.9, trueR: 1.9,
  top: 112, right: 75, axisWidth: 253, titlePad: 93,
  yMin: 0.08, yMax: 0.25, yTicks: roTicks, fmt: v => v.toFixed(2), yTitle: 'Ro (Ω)'
});
</script>
</body>
</html>
